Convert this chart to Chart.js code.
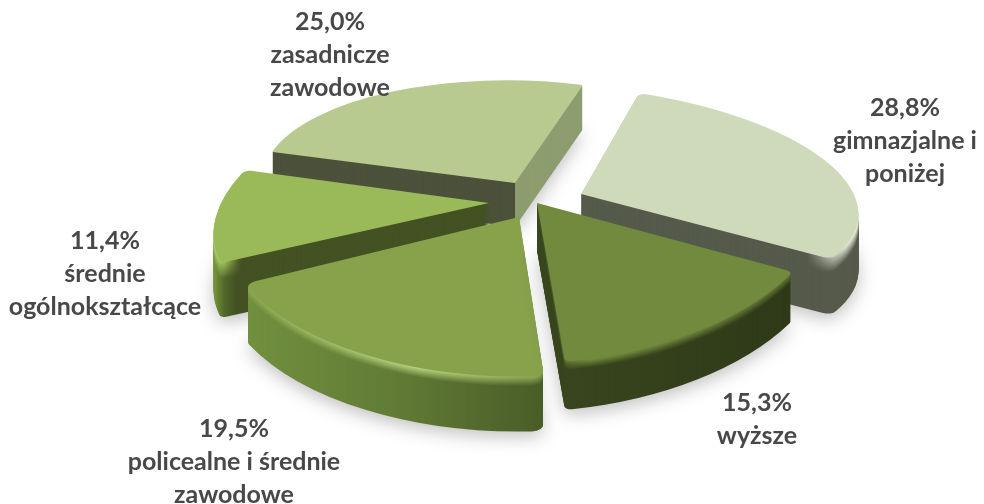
<!DOCTYPE html>
<html><head><meta charset="utf-8">
<style>html,body{margin:0;padding:0;background:#fff}canvas{display:block}</style>
<script src="https://cdn.jsdelivr.net/npm/chart.js@4"></script>
</head><body><canvas id="c" width="984" height="504"></canvas>
<script>
const categories = ['gimnazjalne i poniżej','wyższe','policealne i średnie zawodowe','średnie ogólnokształcące','zasadnicze zawodowe'];
const shares = [28.8,15.3,19.5,11.4,25.0];
const shareLabels = ['28,8%','15,3%','19,5%','11,4%','25,0%'];
const labelLines = [['gimnazjalne i','poniżej'],['wyższe'],['policealne i średnie','zawodowe'],['średnie','ogólnokształcące'],['zasadnicze','zawodowe']];
const faceColors = ['#cfdabb','#728a3d','#87a24b','#9aba59','#b8ca90'];

// Presentation of the tilted, exploded pie
const drawOrder = [4,0,3,2,1];
const frames = [ // wedge tip, rim corner at start angle, rim corner at end angle
 {tip:[581,194],s:[639,93],e:[831,259]},
 {tip:[537,203],s:[793,272],e:[565,362]},
 {tip:[519,217],s:[544,376],e:[244,284]},
 {tip:[489,203],s:[221,263],e:[245,170]},
 {tip:[515,183],s:[272,152],e:[583,85]}];
const cornerRadii = [8,6,10,6,3];
const walls = [
 {depth:56,hiN:14,body:[[0,'#555a4b'],[1,'#555a4b']],hi:[[.82,'#555a4b'],[.86,'#e4e8d8'],[.88,'#f2f4ea']]},
 {depth:48,hiN:8,body:[[.53,'#3a481f'],[.8,'#2f3a19']],hi:[[.53,'#2f3a19'],[.6,'#728a3d'],[.8,'#5c7030']]},
 {depth:55,hiN:9,body:[[.25,'#72903f'],[.4,'#627c35'],[.55,'#4a5d29']],hi:[[.25,'#8ba64f'],[.42,'#b4d07c'],[.55,'#8aa450']]},
 {depth:55,hiN:16,body:[[.215,'#80a03f'],[.228,'#52672a'],[.24,'#435223']],hi:[[.215,'#b8d874'],[.228,'#9aba59'],[.245,'#435223']]},
 {depth:44,hiN:0,body:[[.5234,'#4c513a'],[.5235,'#8d9d6f']],hi:[[0,'#8d9d6f'],[1,'#8d9d6f']]}];
const labelSpots = [[905,108],[757,403],[234,429],[105,241],[330,22]];
const lineGap = 33;

const off = document.createElement('canvas'); off.width=984; off.height=504;
const oc = off.getContext('2d');
function hGrad(ctx,stops){const g=ctx.createLinearGradient(0,0,984,0);stops.forEach(s=>g.addColorStop(s[0],s[1]));return g;}
function matrix(el,f){
  const R=el.outerRadius,u=[R*Math.cos(el.startAngle),R*Math.sin(el.startAngle)],v=[R*Math.cos(el.endAngle),R*Math.sin(el.endAngle)];
  const P=[f.s[0]-f.tip[0],f.s[1]-f.tip[1]],Q=[f.e[0]-f.tip[0],f.e[1]-f.tip[1]];
  const det=u[0]*v[1]-u[1]*v[0];
  const a=(P[0]*v[1]-Q[0]*u[1])/det,c=(-P[0]*v[0]+Q[0]*u[0])/det,b=(P[1]*v[1]-Q[1]*u[1])/det,d=(-P[1]*v[0]+Q[1]*u[0])/det;
  return [a,b,c,d,f.tip[0]-a*el.x-c*el.y,f.tip[1]-b*el.x-d*el.y];
}
function drawArc(ctx,el,m,dy,fill){
  const clone=Object.create(el);
  clone.options=Object.assign({},el.options,{backgroundColor:fill});
  ctx.save();ctx.setTransform(m[0],m[1],m[2],m[3],m[4],m[5]+dy);
  clone.draw(ctx);ctx.restore();
}
const pie3d={id:'pie3d',
  beforeDatasetsDraw(chart){
    const ctx=chart.ctx,arcs=chart.getDatasetMeta(0).data;
    drawOrder.forEach(i=>{
      const el=arcs[i],m=matrix(el,frames[i]),w=walls[i];
      for(let d=w.depth;d>=1;d--){
        oc.setTransform(1,0,0,1,0,0);oc.globalCompositeOperation='source-over';oc.globalAlpha=1;
        oc.clearRect(0,0,984,504);
        drawArc(oc,el,m,d,'#000');
        oc.globalCompositeOperation='source-in';
        oc.fillStyle=hGrad(oc,w.body);oc.fillRect(0,0,984,504);
        if(d<=w.hiN){
          oc.globalCompositeOperation='source-atop';
          oc.globalAlpha=1-(d-1)/w.hiN;
          oc.fillStyle=hGrad(oc,w.hi);oc.fillRect(0,0,984,504);
        }
        ctx.save();
        if(d===w.depth){ctx.shadowColor='rgba(0,0,0,0.25)';ctx.shadowBlur=18;ctx.shadowOffsetY=5;}
        ctx.drawImage(off,0,0);
        ctx.restore();
      }
      drawArc(ctx,el,m,0,faceColors[i]);
    });
    return false;
  },
  afterDraw(chart){
    const ctx=chart.ctx;
    ctx.save();
    ctx.fillStyle='#484848';ctx.textAlign='center';ctx.textBaseline='middle';
    ctx.font='bold 25px Lato, "Open Sans", sans-serif';
    shareLabels.forEach((t,i)=>{
      const [x,y]=labelSpots[i];
      [t].concat(labelLines[i]).forEach((line,k)=>ctx.fillText(line,x,y+k*lineGap));
    });
    ctx.restore();
  }};
new Chart(document.getElementById('c'),{
  type:'pie',
  data:{labels:categories,datasets:[{data:shares,backgroundColor:faceColors,borderWidth:0,
    borderRadius:c=>({outerStart:cornerRadii[c.dataIndex],outerEnd:cornerRadii[c.dataIndex],innerStart:0,innerEnd:0})}]},
  options:{responsive:false,animation:false,rotation:15,
    plugins:{legend:{display:false},tooltip:{enabled:false}},
    layout:{padding:0}},
  plugins:[pie3d]
});
</script></body></html>
